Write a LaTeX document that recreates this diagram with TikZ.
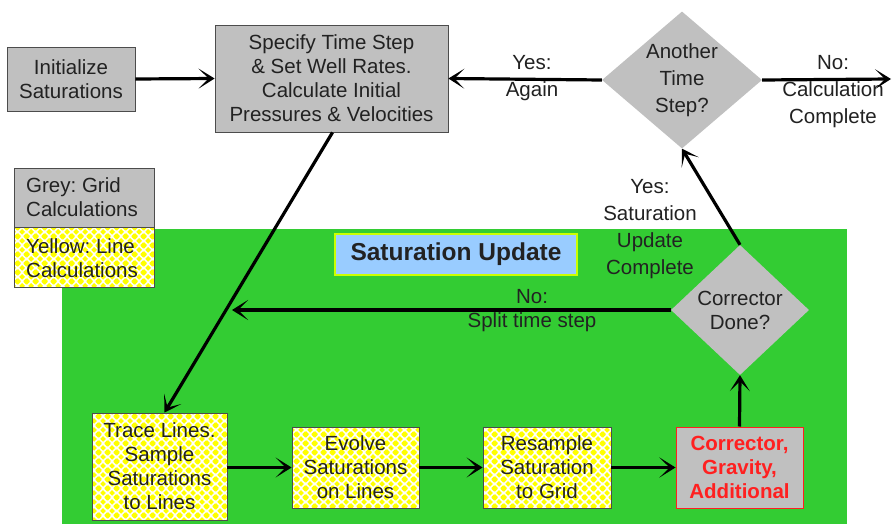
\documentclass[tikz,border=0pt]{standalone}
\usepackage{fontspec}
\setmainfont{Liberation Sans}
\frenchspacing
\usetikzlibrary{shapes.geometric,arrows.meta,patterns}
\newcommand{\ydm}[2]{%
  \pgfpathmoveto{\pgfpoint{#1pt-3.1pt}{#2pt}}%
  \pgfpathlineto{\pgfpoint{#1pt}{#2pt+3.1pt}}%
  \pgfpathlineto{\pgfpoint{#1pt+3.1pt}{#2pt}}%
  \pgfpathlineto{\pgfpoint{#1pt}{#2pt-3.1pt}}%
  \pgfpathclose}
\pgfdeclarepatternformonly{ydiam}{\pgfpointorigin}{\pgfpoint{9pt}{9pt}}{\pgfpoint{9pt}{9pt}}{%
  \ydm{0}{0}\ydm{9}{0}\ydm{0}{9}\ydm{9}{9}\ydm{4.5}{4.5}%
  \pgfusepath{fill}}
\definecolor{bggreen}{HTML}{33CC33}
\definecolor{boxgrey}{HTML}{C0C0C0}
\definecolor{lblue}{HTML}{99CCFF}
\definecolor{txt}{HTML}{222222}
\definecolor{redtxt}{HTML}{FF2020}
\definecolor{ylw}{HTML}{FFFF00}
\tikzset{
  x=1pt,y=1pt,
  every node/.style={text=txt,font=\fontsize{20.5}{24}\selectfont},
  greybox/.style={draw=black!70,line width=0.8pt,fill=boxgrey,align=center,inner sep=0pt},
  ybox/.style={draw=black!70,line width=0.8pt,preaction={fill=white},pattern=ydiam,pattern color=ylw,align=center,inner sep=0pt},
  decision/.style={diamond,fill=boxgrey,inner sep=0pt,align=center},
  lbl/.style={align=center,inner sep=0pt},
  flow/.style={line width=3.2pt,draw=black,-{Stealth[length=16pt,width=20pt,inset=10pt]}},
}
\begin{document}
\begin{tikzpicture}
\useasboundingbox (0,0) rectangle (892,-524);
\fill[white] (0,0) rectangle (892,-524);
% green region
\fill[bggreen] (62,-229) rectangle (847,-524);

% top row
\node[greybox,minimum width=128,minimum height=64] (init) at (71,-79) {Initialize\\Saturations};
\node[greybox,minimum width=233,minimum height=107] (spec) at (331.5,-78.5) {Specify Time Step\\\& Set Well Rates.\\Calculate Initial\\Pressures \& Velocities};
\node[decision,minimum width=160,minimum height=137,shape aspect=1.17,font=\fontsize{20.5}{27}\selectfont] (another) at (682,-80) {Another\\Time\\Step?};
\coordinate (finish) at (891,-79);

% legend
\node[greybox,minimum width=140,minimum height=59] (leggrey) at (84,-197.5) {};
\node[lbl,align=left,anchor=west] (leggreyt) at (26,-197.5) {Grey: Grid\\Calculations};
\node[ybox,minimum width=140,minimum height=60] (legyel) at (84,-257) {};
\node[lbl,align=left,anchor=west] (legyelt) at (26,-258) {Yellow: Line\\Calculations};

% saturation update title
\node[draw=ylw!80!green,line width=1.2pt,fill=lblue,minimum width=242,minimum height=41,inner sep=0pt,font=\fontsize{24.5}{28}\selectfont\bfseries] (satupd) at (456,-254.5) {Saturation Update};

% corrector done
\node[decision,minimum width=138,minimum height=130,shape aspect=1.06] (cdone) at (740,-310) {Corrector\\Done?};
\coordinate (splitend) at (232,-310);

% bottom row
\node[ybox,minimum width=135,minimum height=107] (trace) at (159.5,-466.5) {Trace Lines.\\Sample\\Saturations\\to Lines};
\node[ybox,minimum width=127,minimum height=81] (evolve) at (355.5,-467.5) {Evolve\\Saturations\\on Lines};
\node[ybox,minimum width=128,minimum height=81] (resample) at (547,-467.5) {Resample\\Saturation\\to Grid};
\node[draw=redtxt,line width=1pt,fill=boxgrey,minimum width=127,minimum height=81,inner sep=0pt,align=center,text=redtxt,font=\fontsize{20.5}{24}\selectfont\bfseries] (corr) at (739.5,-467.5) {Corrector,\\Gravity,\\Additional};

% labels
\node[lbl,font=\fontsize{20.5}{27}\selectfont] (yesagain) at (532,-78.5) {Yes:\\Again};
\node[lbl,font=\fontsize{20.5}{27}\selectfont] (nocalc) at (833,-92) {No:\\Calculation\\Complete};
\node[lbl,font=\fontsize{20.5}{27}\selectfont] (yessat) at (650,-229) {Yes:\\Saturation\\Update\\Complete};
\node[lbl] (nosplit) at (532,-311) {No:\\Split time step};

% connectors
\draw[flow] (init.east) -- (spec.west);
\draw[flow] (another.west) -- (spec.east);
\draw[flow] (another.east) -- (finish);
\draw[flow] ([xshift=1pt]spec.south) -- ([xshift=5pt]trace.north);
\draw[flow] (trace.east |- evolve.west) -- (evolve.west);
\draw[flow] (evolve.east) -- (resample.west);
\draw[flow] (resample.east) -- (corr.west);
\draw[flow] (corr.north) -- (cdone.south);
\draw[flow] (cdone.north) -- (another.south);
\draw[flow] (cdone.west) -- (splitend);
\end{tikzpicture}
\end{document}
